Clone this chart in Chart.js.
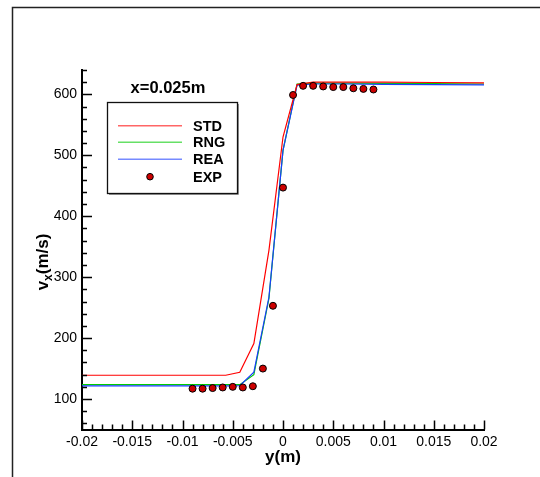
<!DOCTYPE html>
<html>
<head>
<meta charset="utf-8">
<script src="https://cdn.jsdelivr.net/npm/chart.js@4"></script>
<style>
  html, body { margin: 0; padding: 0; background: #fff; overflow: hidden; }
  #profile { display: block; }
</style>
</head>
<body>
<canvas id="profile" width="540" height="477"></canvas>
<script>
// velocity profile across the jet at x = 0.025 m

// simulation grid (y, m)
const simY = [-0.02, -0.0057, -0.0043, -0.0029, -0.0014, 0, 0.0014, 0.003, 0.006, 0.01, 0.015, 0.02];
const stdVx = [139, 139, 144, 191, 344, 530, 616, 620, 620, 620, 619.5, 619];
const rngVx = [123.5, 123.5, 123.5, 140, 265, 508, 617, 618.5, 618.5, 618, 617.5, 617];
const reaVx = [121.5, 121.5, 122, 144, 267, 508, 615, 617, 617, 616.5, 616, 615.5];

// measurements
const expY = [-0.009, -0.008, -0.007, -0.006, -0.005, -0.004, -0.003, -0.002, -0.001, 0,
              0.001, 0.002, 0.003, 0.004, 0.005, 0.006, 0.007, 0.008, 0.009];
const expVx = [117, 117, 118, 119, 120, 119, 121, 150, 253, 447,
               599, 614, 614, 613, 612, 612, 610, 609, 608];

const xTickValues = [-0.02, -0.015, -0.01, -0.005, 0, 0.005, 0.01, 0.015, 0.02];
const xTickLabels = ["-0.02", "-0.015", "-0.01", "-0.005", "0", "0.005", "0.01", "0.015", "0.02"];
const yTickValues = [100, 200, 300, 400, 500, 600];

const seriesNames = ["STD", "RNG", "REA", "EXP"];
const seriesColors = ["#ff0000", "#00cc00", "#1a3cff", "#cc0000"];

function toPoints(xs, ys) {
  return xs.map((x, i) => ({ x: x, y: ys[i] }));
}

const FONT = "Arial, 'Liberation Sans', sans-serif";

// inward tick marks, titles, legend and page frame
const decorations = {
  id: "decorations",
  beforeDraw(chart) {
    const ctx = chart.ctx;
    ctx.save();
    ctx.fillStyle = "#fff";
    ctx.fillRect(0, 0, chart.width, chart.height);
    ctx.strokeStyle = "#222";
    ctx.lineWidth = 1.5;
    ctx.beginPath();
    ctx.moveTo(12.5, chart.height);
    ctx.lineTo(12.5, 7.5);
    ctx.lineTo(chart.width, 7.5);
    ctx.stroke();
    ctx.restore();
  },
  afterDraw(chart) {
    const ctx = chart.ctx;
    const xs = chart.scales.x;
    const ys = chart.scales.y;
    const area = chart.chartArea;
    ctx.save();
    ctx.strokeStyle = "#000";
    ctx.lineWidth = 1.5;
    ctx.beginPath();
    for (let i = 0; i <= 40; i++) {
      const v = -0.02 + i * 0.001;
      const px = Math.round(xs.getPixelForValue(v)) + 0.5;
      const len = i % 5 === 0 ? 9 : 5;
      ctx.moveTo(px, area.bottom);
      ctx.lineTo(px, area.bottom - len);
    }
    for (let v = 60; v <= 640; v += 20) {
      const py = Math.round(ys.getPixelForValue(v)) + 0.5;
      const len = v % 100 === 0 ? 10 : 5;
      ctx.moveTo(area.left, py);
      ctx.lineTo(area.left + len, py);
    }
    ctx.stroke();

    // axis titles
    ctx.fillStyle = "#000";
    ctx.font = "bold 17px " + FONT;
    ctx.textAlign = "center";
    ctx.textBaseline = "alphabetic";
    ctx.fillText("y(m)", (area.left + area.right) / 2, 462);

    ctx.save();
    ctx.translate(48, 262);
    ctx.rotate(-Math.PI / 2);
    ctx.textAlign = "left";
    const bigFont = "bold 17px " + FONT;
    const subFont = "bold 12px " + FONT;
    ctx.font = bigFont;
    const wV = ctx.measureText("v").width;
    const wRest = ctx.measureText("(m/s)").width;
    ctx.font = subFont;
    const wSub = ctx.measureText("x").width;
    let x0 = -(wV + wSub + wRest) / 2;
    ctx.font = bigFont;
    ctx.fillText("v", x0, 0);
    ctx.font = subFont;
    ctx.fillText("x", x0 + wV, 4);
    ctx.font = bigFont;
    ctx.fillText("(m/s)", x0 + wV + wSub, 0);
    ctx.restore();

    // station label
    ctx.font = "bold 16.5px " + FONT;
    ctx.textAlign = "center";
    ctx.textBaseline = "middle";
    ctx.fillText("x=0.025m", 168, 88);

    // legend
    ctx.fillStyle = "#fff";
    ctx.fillRect(108, 102.5, 129, 90.5);
    ctx.strokeStyle = "#999";
    ctx.lineWidth = 1;
    ctx.beginPath();
    ctx.moveTo(109, 194.5);
    ctx.lineTo(238.5, 194.5);
    ctx.lineTo(238.5, 104);
    ctx.stroke();
    ctx.strokeStyle = "#111";
    ctx.lineWidth = 1.3;
    ctx.strokeRect(107.5, 102.5, 130, 91);
    const rows = [125.7, 142.3, 159.3, 176.7];
    ctx.font = "bold 14.5px " + FONT;
    ctx.textAlign = "left";
    rows.forEach((ry, i) => {
      if (i < 3) {
        ctx.strokeStyle = seriesColors[i];
        ctx.globalAlpha = 0.6;
        ctx.lineWidth = 1.6;
        ctx.beginPath();
        ctx.moveTo(118, ry);
        ctx.lineTo(182, ry);
        ctx.stroke();
        ctx.globalAlpha = 1;
      } else {
        ctx.fillStyle = seriesColors[3];
        ctx.strokeStyle = "#000";
        ctx.lineWidth = 1;
        ctx.beginPath();
        ctx.arc(150, ry, 3.3, 0, Math.PI * 2);
        ctx.fill();
        ctx.stroke();
      }
      ctx.fillStyle = "#000";
      ctx.fillText(seriesNames[i], 193, ry + 1);
    });
    ctx.restore();
  }
};

// higher order is painted first, so REA sits over RNG and the points over all
const lineStyle = (i, order) => ({
  borderColor: seriesColors[i],
  backgroundColor: seriesColors[i],
  borderWidth: 1.2,
  showLine: true,
  pointRadius: 0,
  tension: 0,
  order: order
});

new Chart(document.getElementById("profile"), {
  type: "scatter",
  data: {
    datasets: [
      Object.assign({ label: seriesNames[0], data: toPoints(simY, stdVx) }, lineStyle(0, 1)),
      Object.assign({ label: seriesNames[1], data: toPoints(simY, rngVx) }, lineStyle(1, 3)),
      Object.assign({ label: seriesNames[2], data: toPoints(simY, reaVx) }, lineStyle(2, 2)),
      {
        label: seriesNames[3],
        data: toPoints(expY, expVx),
        showLine: false,
        order: 0,
        pointRadius: 3.5,
        pointBackgroundColor: seriesColors[3],
        pointBorderColor: "#000",
        pointBorderWidth: 1
      }
    ]
  },
  options: {
    responsive: false,
    animation: false,
    devicePixelRatio: 1,
    layout: { padding: { left: 12, right: 56, top: 70, bottom: 7.5 } },
    plugins: { legend: { display: false }, tooltip: { enabled: false } },
    scales: {
      x: {
        type: "linear",
        min: -0.02,
        max: 0.02,
        afterBuildTicks: (s) => { s.ticks = xTickValues.map((v) => ({ value: v })); },
        afterFit: (s) => { s.height = 40; },
        grid: { drawOnChartArea: false, drawTicks: false },
        border: { display: true, color: "#000", width: 2 },
        ticks: {
          padding: 4,
          maxRotation: 0,
          color: "#000",
          font: { family: FONT, size: 14 },
          callback: (v) => {
            const k = xTickValues.findIndex((t) => Math.abs(t - v) < 1e-9);
            return k >= 0 ? xTickLabels[k] : "";
          }
        }
      },
      y: {
        type: "linear",
        min: 50,
        max: 640,
        afterBuildTicks: (s) => { s.ticks = yTickValues.map((v) => ({ value: v })); },
        afterFit: (s) => { s.width = 70; },
        grid: { drawOnChartArea: false, drawTicks: false },
        border: { display: true, color: "#000", width: 2 },
        ticks: {
          padding: 5,
          color: "#000",
          font: { family: FONT, size: 14 }
        }
      }
    }
  },
  plugins: [decorations]
});
</script>
</body>
</html>
